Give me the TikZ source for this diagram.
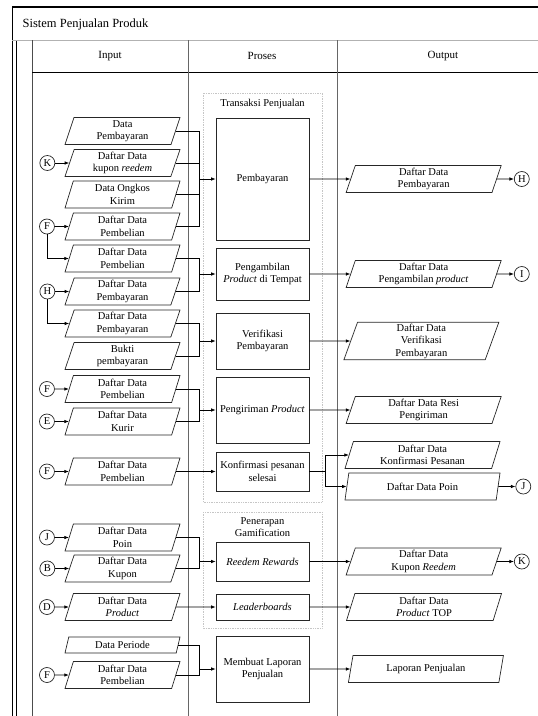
\documentclass[tikz,border=0pt]{standalone}
\usepackage{fontspec}
\setmainfont{Liberation Serif}
\usetikzlibrary{shapes.geometric, arrows.meta, positioning}

\begin{document}
\begin{tikzpicture}[
    x=1pt, y=-1pt,
    line width=0.7pt,
    font=\fontsize{10.5}{12.5}\selectfont,
    data/.style={trapezium, trapezium left angle=70, trapezium right angle=110, trapezium stretches body, draw=black!85, align=center, inner sep=1.5pt, minimum height=27pt},
    input/.style={data, minimum width=115pt},
    output/.style={data, minimum width=155pt},
    process/.style={rectangle, draw=black!85, align=center, minimum width=93pt},
    conn/.style={circle, draw=black!85, inner sep=0pt, minimum size=15pt},
    group/.style={draw=gray!45, densely dotted},
    arrow/.style={-{Latex[length=4.5pt,width=3.5pt]}}
]
\useasboundingbox (0,0) rectangle (538,716);
% frame and lanes
\draw[line width=1.2pt] (12,7) -- (538,7);
\draw (12,7) -- (12,716);
\draw (16,40) -- (16,716);
\draw[gray!60, line width=1pt] (12,40) -- (538,40);
\draw[black!70] (32,40) -- (32,716);
\draw[line width=0.9pt] (32,72) -- (538,72);
\draw[black!60] (188,40) -- (188,716) (337,40) -- (337,716);
\node (title) [anchor=west, font=\fontsize{12.5}{14}\selectfont] at (19,24) {Sistem Penjualan Produk};
\node (hin) [font=\fontsize{11}{13}\selectfont] at (110,56) {Input};
\node (hproc) [font=\fontsize{11}{13}\selectfont] at (262,56) {Proses};
\node (hout) [font=\fontsize{11}{13}\selectfont] at (443,56) {Output};

% groups
\draw[group] (203,93) rectangle (322,502);
\node (gtrans) at (262.5,104) {Transaksi Penjualan};
\draw[group] (203,512) rectangle (322,628);
\node (ggam) [align=center] at (262.5,527) {Penerapan\\Gamification};

% proses
\node (pay) [process, minimum height=122pt] at (262.5,179) {Pembayaran};
\node (take) [process, minimum height=52pt] at (262.5,274) {Pengambilan\\\textit{Product} di Tempat};
\node (verif) [process, minimum height=56pt] at (262.5,341) {Verifikasi\\Pembayaran};
\node (ship) [process, minimum height=66pt] at (262.5,410) {Pengiriman \textit{Product}};
\node (done) [process, minimum height=39pt] at (262.5,471.5) {Konfirmasi pesanan\\selesai};
\node (redeem) [process, minimum height=39pt] at (262.5,561.5) {\textit{Reedem Rewards}};
\node (board) [process, minimum height=26pt] at (262.5,607) {\textit{Leaderboards}};
\node (report) [process, minimum height=66pt] at (262.5,669) {Membuat Laporan\\Penjualan};

% input
\node (in1) [input] at (122.5,131) {Data\\Pembayaran};
\node (in2) [input] at (122.5,163) {Daftar Data\\kupon \textit{reedem}};
\node (in3) [input] at (122.5,194.5) {Data Ongkos\\Kirim};
\node (in4) [input] at (122.5,226.5) {Daftar Data\\Pembelian};
\node (in5) [input] at (122.5,258.5) {Daftar Data\\Pembelian};
\node (in6) [input] at (122.5,291.5) {Daftar Data\\Pembayaran};
\node (in7) [input] at (122.5,323.5) {Daftar Data\\Pembayaran};
\node (in8) [input] at (122.5,356) {Bukti\\pembayaran};
\node (in9) [input] at (122.5,389) {Daftar Data\\Pembelian};
\node (in10) [input] at (122.5,421.5) {Daftar Data\\Kurir};
\node (in11) [input] at (122.5,471.5) {Daftar Data\\Pembelian};
\node (in12) [input] at (122.5,537.5) {Daftar Data\\Poin};
\node (in13) [input] at (122.5,568.5) {Daftar Data\\Kupon};
\node (in14) [input] at (122.5,607) {Daftar Data\\\textit{Product}};
\node (in15) [input, minimum height=16pt] at (122.5,645) {Data Periode};
\node (in16) [input] at (122.5,675) {Daftar Data\\Pembelian};

\node (cK) [conn, left=14pt of in2] {K};
\node (cF1) [conn, left=14pt of in4] {F};
\node (cH) [conn, left=14pt of in6] {H};
\node (cF2) [conn, left=14pt of in9] {F};
\node (cE) [conn, left=14pt of in10] {E};
\node (cF3) [conn, left=14pt of in11] {F};
\node (cJ) [conn, left=14pt of in12] {J};
\node (cB) [conn, left=14pt of in13] {B};
\node (cD) [conn, left=14pt of in14] {D};
\node (cF4) [conn, left=14pt of in16] {F};

% output
\node (out1) [output, right=41pt of pay] {Daftar Data\\Pembayaran};
\node (out2) [output, right=41pt of take] {Daftar Data\\Pengambilan \textit{product}};
\node (out3) [output, right=41pt of verif] {Daftar Data\\Verifikasi\\Pembayaran};
\node (out4) [output, right=41pt of ship] {Daftar Data Resi\\Pengiriman};
\node (out5) [output] at (422.5,455) {Daftar Data\\Konfirmasi Pesanan};
\node (out6) [output] at (422.5,486.5) {Daftar Data Poin};
\node (out7) [output, right=41pt of redeem] {Daftar Data\\Kupon \textit{Reedem}};
\node (out8) [output, right=41pt of board] {Daftar Data\\\textit{Product} TOP};
\node (out9) [output, right=41pt of report] {Laporan Penjualan};

\node (oH) [conn, right=17pt of out1] {H};
\node (oI) [conn, right=17pt of out2] {I};
\node (oJ) [conn, right=17pt of out6] {J};
\node (oK) [conn, right=17pt of out7] {K};
\coordinate (split) at (325,471.5);

% connectors into inputs
\draw[arrow] (cK) -- (in2);
\draw[arrow] (cF1) -- (in4);
\draw[arrow] (cF1.south) |- (in5.west);
\draw[arrow] (cH) -- (in6);
\draw[arrow] (cH.south) |- (in7.west);
\draw[arrow] (cF2) -- (in9);
\draw[arrow] (cE) -- (in10);
\draw[arrow] (cF3) -- (in11);
\draw[arrow] (cJ) -- (in12);
\draw[arrow] (cB) -- (in13);
\draw[arrow] (cD) -- (in14);
\draw[arrow] (cF4) -- (in16);

% inputs to proses
\draw (in1.east) -| ([xshift=-16pt]pay.west);
\draw (in2.east) -| ([xshift=-16pt]pay.west);
\draw (in3.east) -| ([xshift=-16pt]pay.west);
\draw (in4.east) -| ([xshift=-16pt]pay.west);
\draw[arrow] ([xshift=-16pt]pay.west) -- (pay.west);
\draw (in5.east) -| ([xshift=-16pt]take.west);
\draw (in6.east) -| ([xshift=-16pt]take.west);
\draw[arrow] ([xshift=-16pt]take.west) -- (take.west);
\draw (in7.east) -| ([xshift=-16pt]verif.west);
\draw (in8.east) -| ([xshift=-16pt]verif.west);
\draw[arrow] ([xshift=-16pt]verif.west) -- (verif.west);
\draw (in9.east) -| ([xshift=-16pt]ship.west);
\draw (in10.east) -| ([xshift=-16pt]ship.west);
\draw[arrow] ([xshift=-16pt]ship.west) -- (ship.west);
\draw[arrow] (in11.east) -- (done.west);
\draw (in12.east) -| ([xshift=-16pt]redeem.west);
\draw (in13.east) -| ([xshift=-16pt]redeem.west);
\draw[arrow] ([xshift=-16pt]redeem.west) -- (redeem.west);
\draw[arrow] (in14.east) -- (board.west);
\draw (in15.east) -| ([xshift=-16pt]report.west);
\draw (in16.east) -| ([xshift=-16pt]report.west);
\draw[arrow] ([xshift=-16pt]report.west) -- (report.west);

% proses to output
\draw[arrow] (pay) -- (out1);
\draw[arrow] (take) -- (out2);
\draw[arrow] (verif) -- (out3);
\draw[arrow] (ship) -- (out4);
\draw (done.east) -- (split);
\draw[arrow] (split) |- (out5.west);
\draw[arrow] (split) |- (out6.west);
\draw[arrow] (redeem) -- (out7);
\draw[arrow] (board) -- (out8);
\draw[arrow] (report) -- (out9);
\draw[arrow] (out1) -- (oH);
\draw[arrow] (out2) -- (oI);
\draw[arrow] (out6) -- (oJ);
\draw[arrow] (out7) -- (oK);
\end{tikzpicture}
\end{document}
